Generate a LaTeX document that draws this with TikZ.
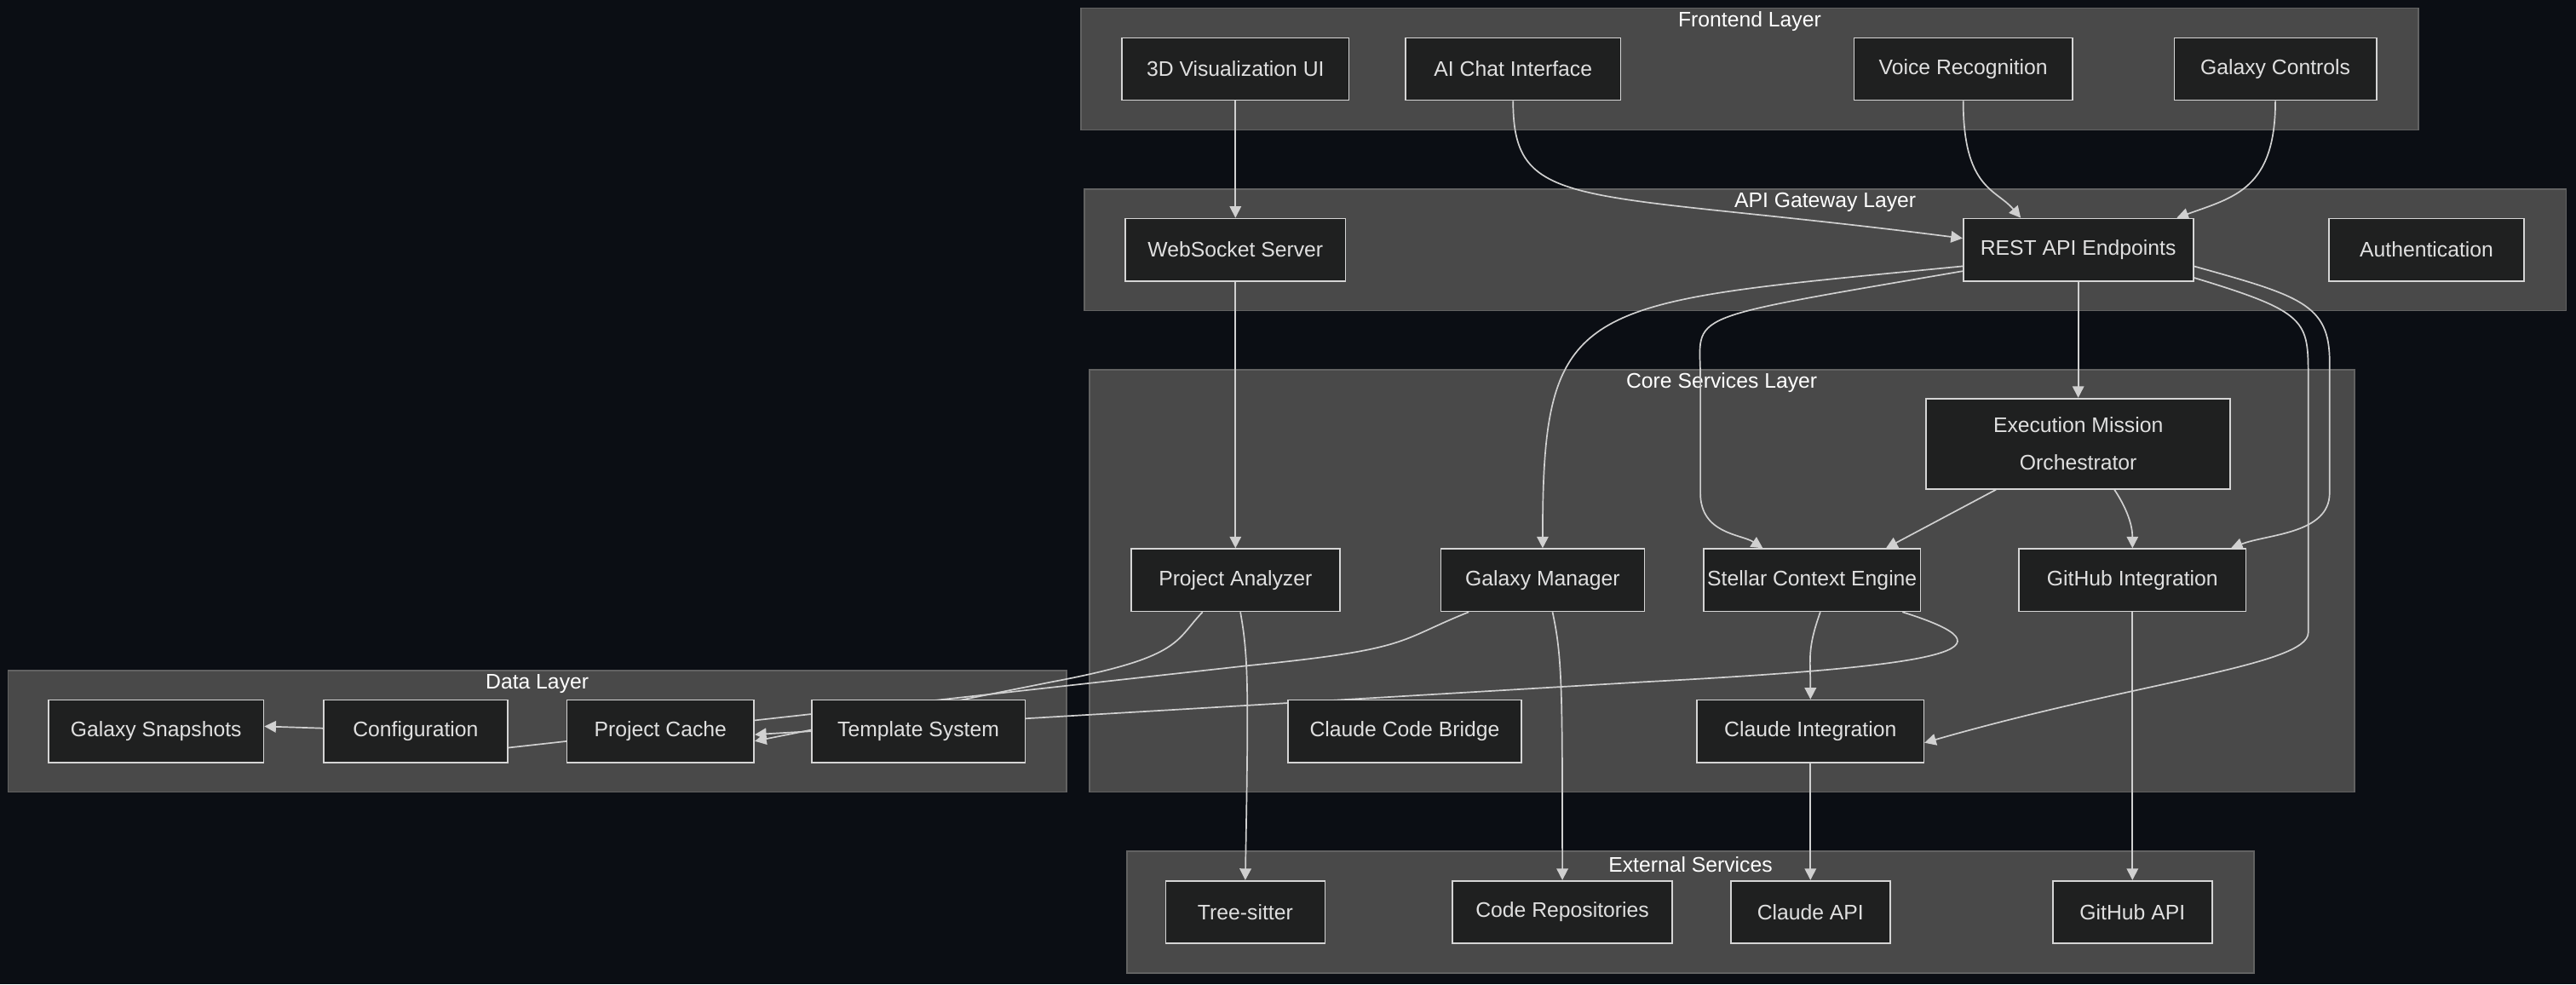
\documentclass[tikz,border=0pt]{standalone}
\usepackage{fontspec}
\setmainfont{Liberation Sans}
\usetikzlibrary{arrows.meta,backgrounds}
\definecolor{bgdark}{HTML}{0B0E14}
\definecolor{clusterfill}{HTML}{494949}
\definecolor{clusterline}{HTML}{626262}
\definecolor{nodefill}{HTML}{1F2020}
\definecolor{edgecol}{HTML}{D0D0D0}
\pgfdeclarelayer{bg}
\pgfdeclarelayer{clusters}
\pgfdeclarelayer{edges}
\pgfsetlayers{bg,clusters,edges,main}
\tikzset{
  box/.style={draw=edgecol!90,fill=nodefill,text=white!88!black,font=\fontsize{7.3}{10}\selectfont,
    minimum height=0.76cm,inner sep=0pt,line width=0.5pt,align=center},
  layer/.style={draw=clusterline,fill=clusterfill,line width=0.5pt},
  ltitle/.style={text=white,font=\fontsize{7.3}{9}\selectfont},
  edge/.style={draw=edgecol,line width=0.5pt,-{Triangle[length=4pt,width=4pt]}},
  plain/.style={draw=edgecol,line width=0.5pt},
}
\begin{document}
\begin{tikzpicture}[x=0.02cm,y=-0.02cm]
\begin{pgfonlayer}{bg}
  \fill[bgdark] (0,0) rectangle (1568,599);
\end{pgfonlayer}
\useasboundingbox (0,0) rectangle (1568,599);

% frontend
\node[box,minimum width=2.76cm] (viz) at (752,42) {3D Visualization UI};
\node[box,minimum width=2.62cm] (chat) at (921,42) {AI Chat Interface};
\node[box,minimum width=2.66cm] (voice) at (1195,42) {Voice Recognition};
\node[box,minimum width=2.46cm] (controls) at (1385,42) {Galaxy Controls};
% api gateway
\node[box,minimum width=2.68cm] (ws) at (752,152) {WebSocket Server};
\node[box,minimum width=2.80cm] (rest) at (1265,152) {REST API Endpoints};
\node[box,minimum width=2.38cm] (auth) at (1477,152) {Authentication};
% core services
\node[box,minimum width=3.70cm,minimum height=1.10cm] (exec) at (1265,270) {Execution Mission\\[3pt]Orchestrator};
\node[box,minimum width=2.54cm] (analyzer) at (752,353) {Project Analyzer};
\node[box,minimum width=2.48cm] (galaxy) at (939,353) {Galaxy Manager};
\node[box,minimum width=2.64cm] (stellar) at (1103,353) {Stellar Context Engine};
\node[box,minimum width=2.76cm] (github) at (1298,353) {GitHub Integration};
\node[box,minimum width=2.84cm] (bridge) at (855,445) {Claude Code Bridge};
\node[box,minimum width=2.76cm] (claudeint) at (1102,445) {Claude Integration};
% data
\node[box,minimum width=2.62cm] (snapshots) at (95,445) {Galaxy Snapshots};
\node[box,minimum width=2.24cm] (config) at (253,445) {Configuration};
\node[box,minimum width=2.28cm] (cache) at (402,445) {Project Cache};
\node[box,minimum width=2.60cm] (template) at (559,445) {Template System};
% external
\node[box,minimum width=1.94cm] (treesitter) at (758,555) {Tree-sitter};
\node[box,minimum width=2.68cm] (repos) at (951,555) {Code Repositories};
\node[box,minimum width=1.94cm] (claudeapi) at (1102,555) {Claude API};
\node[box,minimum width=1.94cm] (ghapi) at (1298,555) {GitHub API};

\begin{pgfonlayer}{clusters}
  \draw[layer] (658,5) rectangle (1472,79);
  \node[ltitle] (tfront) at (1065,13) {Frontend Layer};
  \draw[layer] (660,115) rectangle (1562,189);
  \node[ltitle] (tapi) at (1111,123) {API Gateway Layer};
  \draw[layer] (663,225) rectangle (1433,482);
  \node[ltitle] (tcore) at (1048,233) {Core Services Layer};
  \draw[layer] (5,408) rectangle (649,482);
  \node[ltitle] (tdata) at (327,416) {Data Layer};
  \draw[layer] (686,518) rectangle (1372,592);
  \node[ltitle] (text) at (1029,526) {External Services};
\end{pgfonlayer}

\begin{pgfonlayer}{edges}
  \draw[edge] (viz) -- (ws);
  \draw[edge] (chat.south) .. controls (921,130) and (960,115) .. ([yshift=0.14cm]rest.west);
  \draw[edge] (voice.south) .. controls (1195,115) and (1215,115) .. ([xshift=-0.7cm]rest.north);
  \draw[edge] (controls.south) .. controls (1385,115) and (1360,120) .. ([xshift=1.2cm]rest.north);
  \draw[edge] (ws) -- (analyzer);
  \draw[edge] ([yshift=-0.2cm]rest.west) .. controls (960,185) and (939,180) .. (galaxy.north);
  \draw[edge] ([yshift=-0.26cm]rest.west) .. controls (1020,195) and (1035,190) .. (1035,230)
    -- (1035,300) .. controls (1035,325) and (1060,325) .. ([xshift=-0.6cm]stellar.north);
  \draw[edge] (rest) -- (exec);
  \draw[edge] ([yshift=-0.2cm]rest.east) .. controls (1400,180) and (1418,185) .. (1418,220)
    -- (1418,300) .. controls (1418,325) and (1380,325) .. ([xshift=1.2cm]github.north);
  \draw[edge] ([yshift=-0.34cm]rest.east) .. controls (1405,190) and (1405,195) .. (1405,230)
    -- (1405,385) .. controls (1405,405) and (1300,415) .. ([yshift=-0.14cm]claudeint.east);
  \draw[edge] ([xshift=-1cm]exec.south) -- ([xshift=0.9cm]stellar.north);
  \draw[edge] ([xshift=0.44cm]exec.south) .. controls (1295,310) and (1298,320) .. (github.north);
  \draw[edge] ([xshift=-0.4cm]analyzer.south) .. controls (715,390) and (720,400) .. (640,415)
    -- ([yshift=-0.12cm]cache.east);
  \draw[plain] ([xshift=-0.9cm]galaxy.south) .. controls (850,390) and (860,395) .. (760,405)
    -- ([yshift=-0.2cm]config.east);
  \draw[edge] ([xshift=1.1cm]stellar.south) .. controls (1230,395) and (1190,405) .. (1000,415)
    -- ([yshift=-0.04cm]cache.east);
  \draw[edge] ([xshift=0.1cm]stellar.south) .. controls (1100,395) and (1102,400) .. (claudeint.north);
  \draw[edge] (config) -- ([yshift=0.06cm]snapshots.east);
  \draw[edge] ([xshift=0.06cm]analyzer.south) .. controls (760,400) and (760,420) .. (treesitter.north);
  \draw[edge] ([xshift=0.12cm]galaxy.south) .. controls (951,400) and (951,420) .. (repos.north);
  \draw[edge] (claudeint) -- (claudeapi);
  \draw[edge] (github) -- (ghapi);
\end{pgfonlayer}
\end{tikzpicture}
\end{document}
